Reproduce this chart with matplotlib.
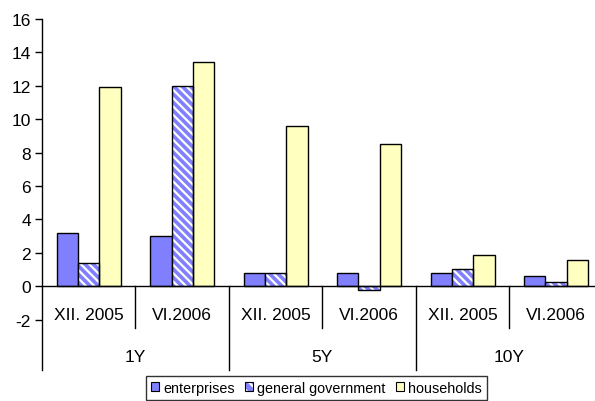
import matplotlib
matplotlib.use("Agg")
import matplotlib.pyplot as plt
from matplotlib.patches import Patch
from matplotlib.legend_handler import HandlerTuple
import numpy as np

plt.rcParams['font.family'] = ['Liberation Sans', 'DejaVu Sans']
plt.rcParams['hatch.linewidth'] = 1.6

groups = ["1Y", "5Y", "10Y"]
periods = ["XII. 2005", "VI.2006"]
series_names = ["enterprises", "general government", "households"]
enterprises = [3.2, 3.0, 0.8, 0.8, 0.8, 0.6]
general_government = [1.4, 12.0, 0.8, -0.2, 1.05, 0.25]
households = [11.9, 13.4, 9.6, 8.5, 1.9, 1.6]
yticks = list(range(-2, 17, 2))

blue = "#8080FF"
yellow = "#FFFFC0"

W, H = 595, 402
fig = plt.figure(figsize=(W / 100, H / 100), dpi=100)
left_px, right_px, top_px, bot_px = 42, 602.8, 20, 320.7
ax = fig.add_axes([left_px / W, 1 - bot_px / H, (right_px - left_px) / W, (bot_px - top_px) / H])

n = len(enterprises)
x = np.arange(n)
bw = 0.228

ax.bar(x - bw, enterprises, bw, color=blue, edgecolor="black", linewidth=1, zorder=3)
ax.bar(x, general_government, bw, color=blue, edgecolor="white", linewidth=0, hatch="\\\\\\\\", zorder=3)
ax.bar(x, general_government, bw, color="none", edgecolor="black", linewidth=1, zorder=4)
ax.bar(x + bw, households, bw, color=yellow, edgecolor="black", linewidth=1, zorder=3)

ax.set_xlim(-0.5, n - 0.5)
ax.set_ylim(-2, 16)
ax.set_yticks(yticks)
ax.set_yticklabels([str(t) for t in yticks], fontsize=12.5)
ax.tick_params(axis='y', direction='out', length=5, width=1, color='black', pad=3)
ax.set_xticks([])
for s in ["top", "right", "bottom", "left"]:
    ax.spines[s].set_visible(False)

ax.plot([-0.5, -0.5], [16, -5.0], color="black", lw=1, clip_on=False, zorder=5)
ax.plot([-0.5, n - 0.5], [0, 0], color="black", lw=1, clip_on=False, zorder=5)

for xs in [0.5, 2.5, 4.5]:
    ax.plot([xs, xs], [0, -2.5], color="black", lw=1, clip_on=False)
for xs in [1.5, 3.5]:
    ax.plot([xs, xs], [0, -5.0], color="black", lw=1, clip_on=False)

for i in range(n):
    ax.text(i, -1.68, periods[i % 2], ha="center", va="center", fontsize=12.5, clip_on=False)
for g, name in enumerate(groups):
    ax.text(2 * g + 0.5, -4.19, name, ha="center", va="center", fontsize=12.5, clip_on=False)

handles = [
    Patch(facecolor=blue, edgecolor="black", linewidth=0.8),
    (Patch(facecolor=blue, edgecolor="white", linewidth=0, hatch="\\\\\\"),
     Patch(facecolor="none", edgecolor="black", linewidth=0.8)),
    Patch(facecolor=yellow, edgecolor="black", linewidth=0.8),
]
leg = fig.legend(handles, series_names, loc="upper center", bbox_to_anchor=(316.5 / W, 1 - 376.7 / H),
                 ncol=3, fontsize=10.4, frameon=True, fancybox=False, edgecolor="black",
                 handlelength=0.55, handleheight=0.55, handletextpad=0.3, columnspacing=0.7,
                 borderpad=0.35, borderaxespad=0,
                 handler_map={tuple: HandlerTuple(ndivide=1, pad=0)})
leg.get_frame().set_linewidth(1)

fig.savefig("out.png", dpi=100)
